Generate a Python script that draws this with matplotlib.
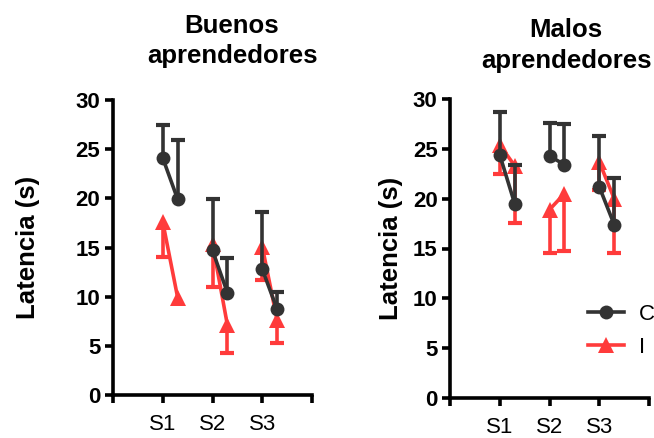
import matplotlib
matplotlib.use("Agg")
import matplotlib.pyplot as plt
from matplotlib.lines import Line2D

plt.rcParams['font.family'] = ['Liberation Sans', 'DejaVu Sans']

sessions = ["S1", "S2", "S3"]

# Buenos aprendedores
buenos_C_pre = [24.1, 14.7, 12.8]
buenos_C_pre_err = [3.4, 5.2, 5.8]
buenos_C_post = [19.9, 10.4, 8.7]
buenos_C_post_err = [6.0, 3.5, 1.8]
buenos_I_pre = [17.6, 15.4, 15.1]
buenos_I_pre_err = [3.6, 4.4, 3.4]
buenos_I_post = [9.9, 7.1, 7.6]
buenos_I_post_err = [0.0, 2.8, 2.3]

# Malos aprendedores
malos_C_pre = [24.4, 24.3, 21.2]
malos_C_pre_err = [4.3, 3.3, 5.1]
malos_C_post = [19.5, 23.4, 17.4]
malos_C_post_err = [3.9, 4.1, 4.7]
malos_I_pre = [25.4, 18.9, 23.7]
malos_I_pre_err = [2.9, 4.4, 2.8]
malos_I_post = [23.3, 20.5, 20.0]
malos_I_post_err = [5.7, 5.8, 5.5]

BLACK = "#333333"
RED = "#FF3B3B"
LW = 2.6
W, H = 654, 438

fig = plt.figure(figsize=(W / 100, H / 100), dpi=100)


def px_axes(x0, x1, y_top, y_bot):
    return fig.add_axes([x0 / W, 1 - y_bot / H, (x1 - x0) / W, (y_bot - y_top) / H])


def one_sided(ax, xs, ys, es, sign, color, z):
    for x, y, e in zip(xs, ys, es):
        if e <= 0:
            continue
        end = y + sign * e
        ax.plot([x, x], [y, end], color=color, lw=LW, solid_capstyle='butt', zorder=z)
        ax.plot([x], [end], marker='_', ms=10, mew=LW + 0.4, color=color, zorder=z)


def draw(ax, Cpre, Cpre_e, Cpost, Cpost_e, Ipre, Ipre_e, Ipost, Ipost_e):
    offset = 0.3
    for i in range(len(sessions)):
        xs = [i + 1, i + 1 + offset]
        # I series (red), downward error bars
        one_sided(ax, xs, [Ipre[i], Ipost[i]], [Ipre_e[i], Ipost_e[i]], -1, RED, 2)
        ax.plot(xs, [Ipre[i], Ipost[i]], color=RED, lw=LW, marker='^', ms=12,
                mec=RED, mew=0, zorder=2.5)
        # C series (black), upward error bars
        one_sided(ax, xs, [Cpre[i], Cpost[i]], [Cpre_e[i], Cpost_e[i]], 1, BLACK, 3)
        ax.plot(xs, [Cpre[i], Cpost[i]], color=BLACK, lw=LW, marker='o', ms=10,
                mew=0, zorder=3.5)
    ax.set_xlim(0, 4)
    ax.set_ylim(0, 30)
    ax.set_xticks(range(0, len(sessions) + 2))
    ax.set_xticklabels([""] + sessions + [""], fontsize=16)
    ax.set_yticks(range(0, 31, 5))
    ax.set_yticklabels([str(v) for v in range(0, 31, 5)], fontsize=16, fontweight='bold')
    for s in ['top', 'right']:
        ax.spines[s].set_visible(False)
    for s in ['left', 'bottom']:
        ax.spines[s].set_linewidth(LW)
        ax.spines[s].set_color('black')
    ax.tick_params(axis='both', direction='out', width=LW, length=6, color='black')
    ax.tick_params(axis='x', pad=8)
    ax.tick_params(axis='y', pad=3)


ax1 = px_axes(113, 312, 100, 395)
draw(ax1, buenos_C_pre, buenos_C_pre_err, buenos_C_post, buenos_C_post_err,
     buenos_I_pre, buenos_I_pre_err, buenos_I_post, buenos_I_post_err)
ax1.set_ylabel("Latencia (s)", fontsize=18.5, fontweight='bold', labelpad=26)

ax2 = px_axes(450, 649, 99, 398)
draw(ax2, malos_C_pre, malos_C_pre_err, malos_C_post, malos_C_post_err,
     malos_I_pre, malos_I_pre_err, malos_I_post, malos_I_post_err)
ax2.set_ylabel("Latencia (s)", fontsize=18.5, fontweight='bold', labelpad=7)

handles = [Line2D([], [], color=BLACK, lw=LW, marker='o', ms=10, mew=0),
           Line2D([], [], color=RED, lw=LW, marker='^', ms=12, mew=0)]
ax2.legend(handles, ['C', 'I'], loc='center left',
           bbox_to_anchor=(568 / W, 1 - 331 / H),
           bbox_transform=fig.transFigure, frameon=False, fontsize=16,
           handlelength=1.6, handletextpad=0.7, labelspacing=0.55)

fig.text(232 / W, 1 - 33 / H, "Buenos", ha='center', va='baseline',
         fontsize=18.5, fontweight='bold')
fig.text(232 / W, 1 - 63 / H, "aprendedores", ha='center', va='baseline',
         fontsize=18.5, fontweight='bold')
fig.text(566 / W, 1 - 37 / H, "Malos", ha='center', va='baseline',
         fontsize=18.5, fontweight='bold')
fig.text(566 / W, 1 - 68 / H, "aprendedores", ha='center', va='baseline',
         fontsize=18.5, fontweight='bold')

fig.savefig("out.png", dpi=100)
